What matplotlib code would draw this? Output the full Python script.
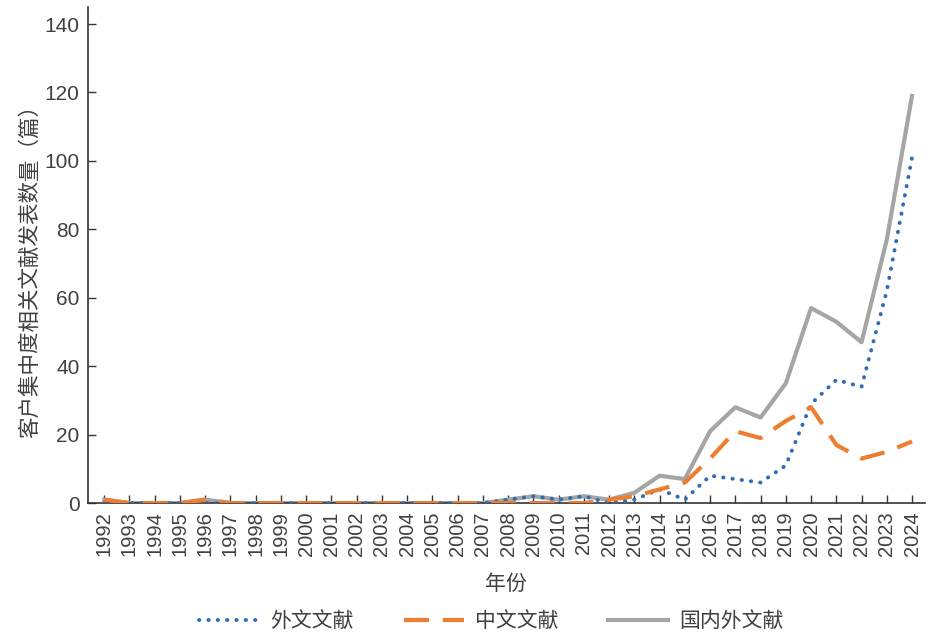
import numpy as np
import matplotlib.pyplot as plt

plt.rcParams['font.family'] = ['Noto Sans CJK SC', 'DejaVu Sans']

# 数据
years = list(range(1992, 2025))
waiwen = [0, 0, 0, 0, 0, 0, 0, 0, 0, 0, 0, 0, 0, 0, 0, 0,
          1, 2, 1, 2, 0, 1, 4, 1, 8, 7, 6, 11, 29, 36, 34, 62, 101]
zhongwen = [1, 0, 0, 0, 1, 0, 0, 0, 0, 0, 0, 0, 0, 0, 0, 0,
            0, 0, 0, 0, 1, 2, 4, 6, 13, 21, 19, 24, 28, 17, 13, 15, 18]
guoneiwai = [1, 0, 0, 0, 1, 0, 0, 0, 0, 0, 0, 0, 0, 0, 0, 0,
             1, 2, 1, 2, 1, 3, 8, 7, 21, 28, 25, 35, 57, 53, 47, 77, 119]

text_color = '#404040'
num_font = ['Liberation Sans', 'DejaVu Sans']

fig = plt.figure(figsize=(9.34, 6.32), dpi=100)
ax = fig.add_axes([0.094, 0.204, 0.896, 0.785])

ax.plot(years, waiwen, color='#2e6fb3', lw=2.8, linestyle=(0, (0.1, 2.3)),
        dash_capstyle='round', label='外文文献', zorder=3)
ax.plot(years, zhongwen, color='#ed7d31', lw=3, linestyle=(0, (6, 3.3)),
        label='中文文献', zorder=4)
ax.plot(years, guoneiwai, color='#a5a5a5', lw=3, label='国内外文献', zorder=2)

ax.set_xlim(1991.35, 2024.5)
ax.set_ylim(0, 145)
ax.set_yticks(np.arange(0, 141, 20))
ax.set_xticks(years)
ax.set_xticklabels([str(y) for y in years], rotation=90, family=num_font)
ax.set_yticklabels([str(v) for v in range(0, 141, 20)], family=num_font)

ax.spines['top'].set_visible(False)
ax.spines['right'].set_visible(False)
for s in ['left', 'bottom']:
    ax.spines[s].set_color('#333333')
    ax.spines[s].set_linewidth(1.2)

ax.tick_params(axis='x', direction='in', length=6, width=1, color='#333333',
               labelsize=14.5, labelcolor=text_color, pad=6)
ax.tick_params(axis='y', direction='in', length=6, width=1, color='#333333',
               labelsize=15, labelcolor=text_color, pad=6)

ax.set_xlabel('年份', fontsize=15, color=text_color, labelpad=12)
ax.set_ylabel('客户集中度相关文献发表数量（篇）', fontsize=15.5, color=text_color)
ax.yaxis.set_label_coords(-0.056, 0.478)

fig.legend(loc='lower center', bbox_to_anchor=(0.526, -0.03), ncol=3, frameon=False,
           fontsize=15, handlelength=2.9, columnspacing=2.4, handletextpad=0.5,
           labelcolor=text_color)

fig.savefig('out.png', dpi=100)
